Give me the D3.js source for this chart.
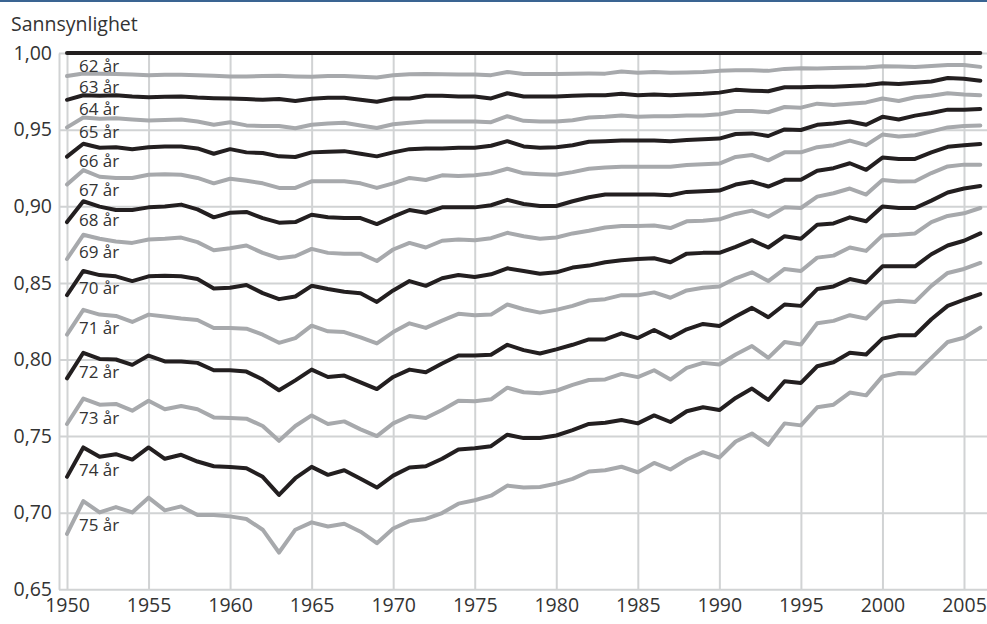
<!DOCTYPE html>
<html>
<head>
<meta charset="utf-8">
<script src="https://cdn.jsdelivr.net/npm/d3@7"></script>
<style>
  html, body { margin: 0; padding: 0; background: #fff; }
  svg { display: block; font-family: "Open Sans", "Noto Sans", sans-serif; }
</style>
</head>
<body>
<svg id="chart" width="987" height="624"></svg>
<script>
// Sannsynlighet for å overleve fra 62 år til gitt alder, 1950–2006
const years = d3.range(1950, 2007);
const ageLabels = ["62 år","63 år","64 år","65 år","66 år","67 år","68 år","69 år","70 år","71 år","72 år","73 år","74 år","75 år"];

const age62 = [1,1,1,1,1,1,1,1,1,1, 1,1,1,1,1,1,1,1,1,1, 1,1,1,1,1,1,1,1,1,1, 1,1,1,1,1,1,1,1,1,1, 1,1,1,1,1,1,1,1,1,1, 1,1,1,1,1,1,1];
const age63 = [0.985,0.9867,0.9865,0.9863,0.986,0.9856,0.9858,0.9858,0.9856,0.9852,
  0.9848,0.9848,0.985,0.9852,0.9848,0.9846,0.985,0.985,0.9846,0.9841,
  0.9856,0.9862,0.9864,0.9862,0.986,0.986,0.9856,0.9877,0.9864,0.9864,
  0.9864,0.9866,0.9867,0.9866,0.988,0.9871,0.9876,0.9872,0.9874,0.9876,
  0.9884,0.9888,0.9888,0.9884,0.9897,0.9901,0.99,0.9902,0.9904,0.9906,
  0.9914,0.9912,0.991,0.9916,0.9923,0.9923,0.991];
const age64 = [0.9695,0.9725,0.9721,0.9725,0.9717,0.9712,0.9715,0.9717,0.971,0.9706,
  0.9704,0.97,0.9695,0.97,0.9687,0.9702,0.9708,0.9708,0.9695,0.9682,
  0.9704,0.9704,0.9721,0.9721,0.9717,0.9717,0.9704,0.9738,0.9717,0.9717,
  0.9717,0.9721,0.9725,0.9725,0.9734,0.9725,0.973,0.9725,0.973,0.9734,
  0.9742,0.976,0.9755,0.9751,0.9777,0.9777,0.9781,0.9781,0.9785,0.979,
  0.9803,0.9798,0.9807,0.9815,0.9837,0.9833,0.982];
const age65 = [0.9515,0.958,0.9571,0.9575,0.9567,0.956,0.9563,0.9566,0.9553,0.9532,
  0.9549,0.9528,0.9524,0.9524,0.951,0.9532,0.9541,0.9545,0.9528,0.9511,
  0.9536,0.9545,0.9554,0.9554,0.9554,0.9554,0.9549,0.9588,0.9558,0.9554,
  0.9554,0.9562,0.9579,0.9584,0.9592,0.9584,0.9588,0.9588,0.9592,0.9592,
  0.9601,0.9622,0.9622,0.9614,0.9648,0.9644,0.967,0.9661,0.967,0.9678,
  0.9704,0.9687,0.9712,0.9721,0.9738,0.973,0.9725];
const age66 = [0.9324,0.9408,0.9382,0.9386,0.9373,0.9386,0.9391,0.9391,0.9378,0.9343,
  0.9373,0.9352,0.9348,0.9326,0.9322,0.9352,0.9356,0.936,0.9343,0.9326,
  0.9352,0.9373,0.9378,0.9378,0.9382,0.9382,0.9395,0.9425,0.9391,0.9382,
  0.9386,0.9399,0.9421,0.9425,0.9429,0.9429,0.9429,0.9425,0.9433,0.9438,
  0.9442,0.9472,0.9476,0.9459,0.9502,0.9498,0.9532,0.9541,0.9554,0.9532,
  0.9584,0.9567,0.9592,0.9609,0.9631,0.9631,0.9635];
const age67 = [0.9142,0.9236,0.9193,0.9185,0.9185,0.9206,0.921,0.9206,0.9185,0.915,
  0.918,0.9167,0.915,0.912,0.912,0.9163,0.9163,0.9163,0.915,0.912,
  0.915,0.9185,0.9172,0.9202,0.9197,0.9202,0.9215,0.9245,0.9215,0.921,
  0.9206,0.9223,0.9245,0.9253,0.9258,0.9258,0.9258,0.9258,0.927,0.9275,
  0.9279,0.9322,0.9335,0.93,0.9352,0.9352,0.9386,0.9399,0.9429,0.9399,
  0.9468,0.9455,0.9464,0.9489,0.9515,0.9524,0.9528];
const age68 = [0.8897,0.9033,0.8998,0.8976,0.8976,0.8993,0.8998,0.9011,0.898,0.8928,
  0.8958,0.8963,0.8923,0.8893,0.8897,0.8945,0.8928,0.8923,0.8923,0.8884,
  0.8932,0.8976,0.8958,0.8993,0.8993,0.8993,0.9007,0.9042,0.9015,0.9002,
  0.9002,0.9033,0.9059,0.9077,0.9077,0.9077,0.9077,0.9072,0.9094,0.9098,
  0.9103,0.9142,0.916,0.9129,0.9173,0.9173,0.9232,0.9249,0.9281,0.9238,
  0.9318,0.9309,0.9309,0.9352,0.9388,0.9399,0.9406];
const age69 = [0.8656,0.8814,0.8788,0.877,0.8761,0.8783,0.8788,0.8796,0.8766,0.8713,
  0.8726,0.8744,0.8696,0.8661,0.8674,0.8722,0.8696,0.8691,0.8691,0.8643,
  0.8718,0.8761,0.8731,0.8775,0.8783,0.8779,0.8792,0.8827,0.8805,0.8788,
  0.8796,0.8823,0.884,0.8862,0.8871,0.8871,0.8875,0.8858,0.8902,0.8906,
  0.8915,0.895,0.8972,0.8932,0.8993,0.8989,0.9063,0.9085,0.9116,0.9077,
  0.9171,0.9162,0.9164,0.9217,0.926,0.9272,0.9272];
const age70 = [0.842,0.8578,0.8551,0.8543,0.8512,0.8543,0.8547,0.8543,0.8525,0.8464,
  0.8468,0.8486,0.8433,0.8394,0.8411,0.8481,0.846,0.8442,0.8433,0.8376,
  0.8451,0.8512,0.8481,0.853,0.8551,0.8538,0.8556,0.8595,0.8578,0.856,
  0.8569,0.86,0.8613,0.8635,0.8648,0.8656,0.8661,0.8635,0.8691,0.8696,
  0.8696,0.8735,0.8779,0.8731,0.8805,0.8788,0.888,0.8888,0.8928,0.8902,
  0.8998,0.8989,0.8989,0.9037,0.909,0.9116,0.9133];
const age71 = [0.8162,0.8324,0.8293,0.8284,0.8245,0.8293,0.828,0.8267,0.8258,0.8206,
  0.8206,0.8201,0.8162,0.8109,0.814,0.8221,0.8184,0.8179,0.8144,0.8105,
  0.8179,0.8236,0.8206,0.8254,0.8298,0.8289,0.8293,0.8359,0.8328,0.8306,
  0.8324,0.835,0.8385,0.8394,0.842,0.842,0.8438,0.8403,0.8451,0.8468,
  0.8477,0.853,0.8569,0.8512,0.8591,0.8578,0.8665,0.8678,0.8731,0.8709,
  0.881,0.8814,0.8823,0.8897,0.8937,0.8954,0.8989];
const age72 = [0.7877,0.8044,0.8004,0.8,0.7965,0.8026,0.7987,0.7987,0.7978,0.793,
  0.793,0.7921,0.7869,0.7799,0.7864,0.7934,0.7886,0.7895,0.7851,0.7807,
  0.7886,0.7934,0.7917,0.7974,0.8026,0.8026,0.8031,0.8096,0.8061,0.8039,
  0.8066,0.8096,0.8131,0.8131,0.8171,0.814,0.8193,0.814,0.8197,0.8232,
  0.8219,0.828,0.8337,0.8276,0.8359,0.835,0.846,0.8477,0.8525,0.8503,
  0.8608,0.8608,0.8608,0.8687,0.8744,0.8775,0.8823];
const age73 = [0.7579,0.7745,0.7705,0.771,0.7666,0.7731,0.7675,0.7697,0.7675,0.7622,
  0.7618,0.7614,0.7566,0.7469,0.7566,0.7635,0.7579,0.7596,0.7544,0.75,
  0.7583,0.7631,0.7618,0.767,0.7731,0.7727,0.774,0.7816,0.7786,0.778,
  0.7796,0.7834,0.7866,0.787,0.7906,0.7885,0.793,0.7869,0.7945,0.7978,
  0.7967,0.8033,0.8088,0.8011,0.8114,0.8098,0.8236,0.8252,0.8289,0.8267,
  0.8372,0.8383,0.8376,0.8481,0.8565,0.8591,0.863];
const age74 = [0.7234,0.7426,0.7365,0.7382,0.7347,0.7426,0.7352,0.7378,0.7334,0.7303,
  0.7299,0.729,0.7234,0.7116,0.7225,0.7299,0.7247,0.7277,0.7221,0.7164,
  0.7242,0.7295,0.7303,0.7352,0.7413,0.7421,0.7434,0.7509,0.7487,0.7487,
  0.7504,0.7539,0.7579,0.7587,0.7605,0.7583,0.7635,0.7592,0.7662,0.7688,
  0.767,0.7749,0.781,0.7736,0.7858,0.7847,0.7956,0.7982,0.8044,0.8033,
  0.8136,0.8158,0.8158,0.8263,0.835,0.839,0.8427];
const age75 = [0.6862,0.7076,0.7002,0.7037,0.7002,0.7098,0.7015,0.7041,0.6985,0.6985,
  0.6976,0.6959,0.6889,0.674,0.6889,0.6937,0.691,0.6928,0.6876,0.6801,
  0.6897,0.6945,0.6959,0.6998,0.7059,0.7081,0.7111,0.7177,0.7164,0.7168,
  0.719,0.7221,0.7269,0.7277,0.73,0.7264,0.7325,0.7282,0.7347,0.7395,
  0.736,0.7465,0.7517,0.7443,0.7583,0.757,0.7688,0.7705,0.7784,0.7766,
  0.789,0.7912,0.7908,0.8011,0.8114,0.8142,0.8208];

const seriesValues = [age62, age63, age64, age65, age66, age67, age68,
                      age69, age70, age71, age72, age73, age74, age75];

const yTicks = [0.65, 0.70, 0.75, 0.80, 0.85, 0.90, 0.95, 1.00];
const xTicks = [1950, 1955, 1960, 1965, 1970, 1975, 1980, 1985, 1990, 1995, 2000, 2005];

const W = 987, H = 624;
const axisX = 59;            // left edge of the plot frame
const colorDark = "#231f20", colorLight = "#a7a9ac", gridColor = "#d1d3d4", textColor = "#333333";

const svg = d3.select("#chart");

const x = d3.scaleLinear().domain([1950, 2006]).range([67, 980.3]);
const y = d3.scaleLinear().domain([0.65, 1.0]).range([589.3, 53.1]);

// Top rule
svg.append("rect").attr("x", 0).attr("y", 0).attr("width", W).attr("height", 2)
  .attr("fill", "#3a6492");

// Axis title
svg.append("text").attr("x", 11).attr("y", 31)
  .attr("font-size", 19.5).attr("fill", textColor)
  .text("Sannsynlighet");

// Vertical grid + year labels
const fmtComma = d => d3.format(".2f")(d).replace(".", ",");
const xAxis = svg.append("g").attr("transform", `translate(0,${y(0.65)})`)
  .call(d3.axisBottom(x).tickValues(xTicks).tickFormat(d3.format("d"))
        .tickSize(-(y(0.65) - y(1.0))).tickSizeOuter(0).tickPadding(9));
xAxis.select(".domain").remove();
xAxis.selectAll(".tick line").attr("stroke", gridColor).attr("stroke-width", 2);
xAxis.selectAll(".tick text").attr("fill", textColor)
  .style("font-size", "19.5px").style("font-family", '"Open Sans", sans-serif');

// Horizontal grid + probability labels
const yAxis = svg.append("g").attr("transform", `translate(${axisX},0)`)
  .call(d3.axisLeft(y).tickValues(yTicks).tickFormat(fmtComma)
        .tickSize(-(W - axisX)).tickSizeOuter(0).tickPadding(7));
yAxis.select(".domain").attr("stroke", gridColor).attr("stroke-width", 2);
yAxis.selectAll(".tick line").attr("stroke", gridColor).attr("stroke-width", 2);
yAxis.selectAll(".tick text").attr("fill", textColor)
  .style("font-size", "19.5px").style("font-family", '"Open Sans", sans-serif');

// Survival curves, alternating dark and light
const line = d3.line().x((d, i) => x(years[i])).y(d => y(d));
svg.append("g").selectAll("path")
  .data(seriesValues)
  .join("path")
  .attr("d", line)
  .attr("fill", "none")
  .attr("stroke", (d, i) => i % 2 === 0 ? colorDark : colorLight)
  .attr("stroke-width", 4)
  .attr("stroke-linejoin", "round")
  .attr("stroke-linecap", "round");

// Age labels just under the start of each curve
svg.append("g").selectAll("text")
  .data(seriesValues)
  .join("text")
  .attr("x", x(1950) + 12)
  .attr("y", d => y(d[2]) + 19)
  .attr("font-size", 17)
  .attr("fill", textColor)
  .text((d, i) => ageLabels[i]);
</script>
</body>
</html>
